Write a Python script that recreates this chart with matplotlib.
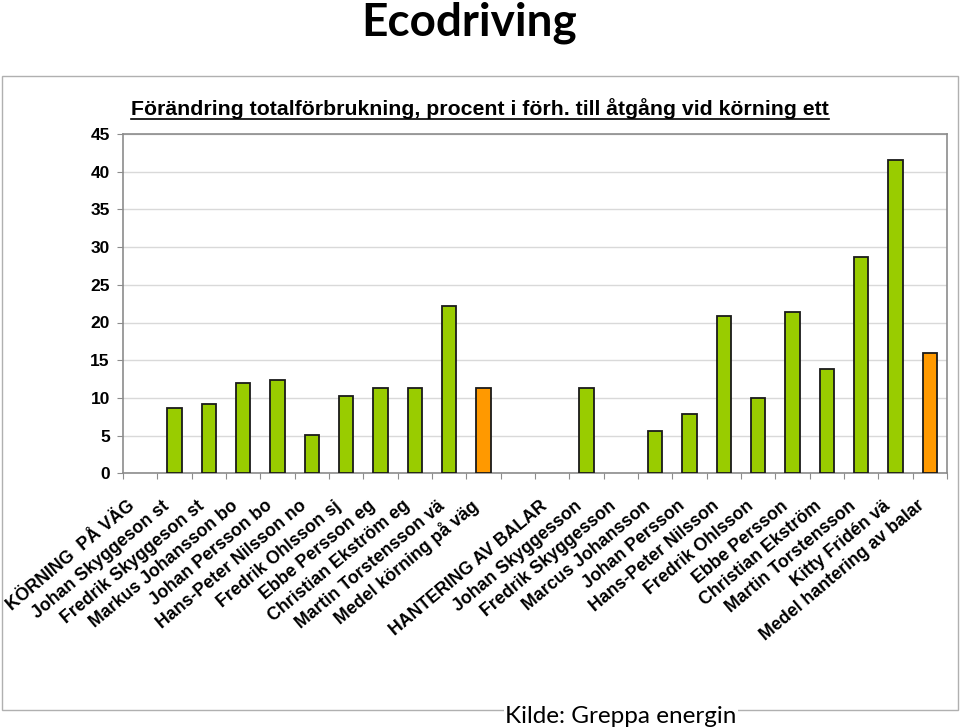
import numpy as np
import matplotlib
matplotlib.use("Agg")
import matplotlib.pyplot as plt
import matplotlib.transforms as mtransforms
from matplotlib.patches import Rectangle
from matplotlib.lines import Line2D

# data
categories = ["KÖRNING  PÅ VÄG", "Johan Skyggeson st", "Fredrik Skyggeson st",
              "Markus Johansson bo", "Johan Persson bo", "Hans-Peter Nilsson no",
              "Fredrik Ohlsson sj", "Ebbe Persson eg", "Christian Ekström eg",
              "Martin Torstensson vä", "Medel körning på väg", "",
              "HANTERING AV BALAR", "Johan Skyggesson", "Fredrik Skyggesson",
              "Marcus Johansson", "Johan Persson", "Hans-Peter Nilsson",
              "Fredrik Ohlsson", "Ebbe Persson", "Christian Ekström",
              "Martin Torstensson", "Kitty Fridén vä", "Medel hantering av balar"]
values = [None, 8.7, 9.2, 12.0, 12.4, 5.1, 10.3, 11.3, 11.3, 22.2, 11.3, None,
          None, 11.3, None, 5.6, 7.9, 20.8, 10.0, 21.4, 13.8, 28.7, 41.5, 16.0]
y_ticks = [0, 5, 10, 15, 20, 25, 30, 35, 40, 45]

title = "Ecodriving"
subtitle = "Förändring totalförbrukning, procent i förh. till åtgång vid körning ett"
source = "Kilde: Greppa energin"

green = "#99CC00"
orange = "#FF9900"

fig = plt.figure(figsize=(9.6, 7.28), dpi=100)
ax = fig.add_axes([123/960, 1 - 473.3/728, (947 - 123)/960, (473.3 - 134)/728])

# chart area frame
fig.patches.append(Rectangle((2/960, 1 - 710/728), 956/960, (710 - 76)/728,
                             transform=fig.transFigure, fill=False,
                             edgecolor="#b0b0b0", lw=1.0, zorder=0))

x = np.arange(len(categories))
vals = np.array([np.nan if v is None else v for v in values], dtype=float)
colors = [orange if c.startswith("Medel") else green for c in categories]
has = ~np.isnan(vals)
ax.bar(x[has], vals[has], width=0.42, color=np.array(colors)[has],
       edgecolor="#1a1a1a", linewidth=1.3, zorder=3)

ax.set_xlim(-0.5, len(categories) - 0.5)
ax.set_ylim(0, 45)
ax.set_yticks(y_ticks)
ax.set_yticklabels([str(t) for t in y_ticks], fontfamily="Liberation Sans",
                   fontweight="bold", fontsize=12.5)
ax.yaxis.grid(True, color="#d9d9d9", lw=1.0, zorder=0)
ax.set_axisbelow(True)
for s in ax.spines.values():
    s.set_color("#8c8c8c")
    s.set_linewidth(1.2)
ax.tick_params(axis="y", length=4.5, color="#8c8c8c", pad=5)

# tick marks between categories, labels at the centres
ax.set_xticks(np.arange(-0.5, len(categories), 1.0))
ax.set_xticklabels([])
ax.tick_params(axis="x", which="major", length=4, color="#8c8c8c")
ax.set_xticks(x, minor=True)
ax.set_xticklabels(categories, minor=True, rotation=40, ha="right", va="center",
                   rotation_mode="anchor", fontfamily="Liberation Sans",
                   fontweight="bold", fontsize=12.8)
ax.tick_params(axis="x", which="minor", length=0, pad=22)
offset = mtransforms.ScaledTranslation(-7/100, 0, fig.dpi_scale_trans)
for lbl in ax.get_xticklabels(minor=True):
    lbl.set_transform(lbl.get_transform() + offset)

fig.text(469/960, 1 - 36/728, title, ha="center", va="baseline",
         fontfamily="Lato", fontweight="bold", fontsize=33)

sub = fig.text(131/960, 1 - 115/728, subtitle, ha="left", va="baseline",
               fontfamily="Liberation Sans", fontweight="bold", fontsize=15.3)
# underline the subtitle
fig.canvas.draw()
bb = sub.get_window_extent(renderer=fig.canvas.get_renderer())
bb = bb.transformed(fig.transFigure.inverted())
uy = 1 - 118.5/728
fig.lines.append(Line2D([bb.x0, bb.x1], [uy, uy],
                        transform=fig.transFigure, color="black", lw=1.2))

fig.text(505/960, 1 - 723/728, source, ha="left", va="baseline",
         fontfamily="Lato", fontsize=17.5,
         bbox=dict(facecolor="white", edgecolor="none", pad=1))

fig.savefig("out.png", dpi=100)
